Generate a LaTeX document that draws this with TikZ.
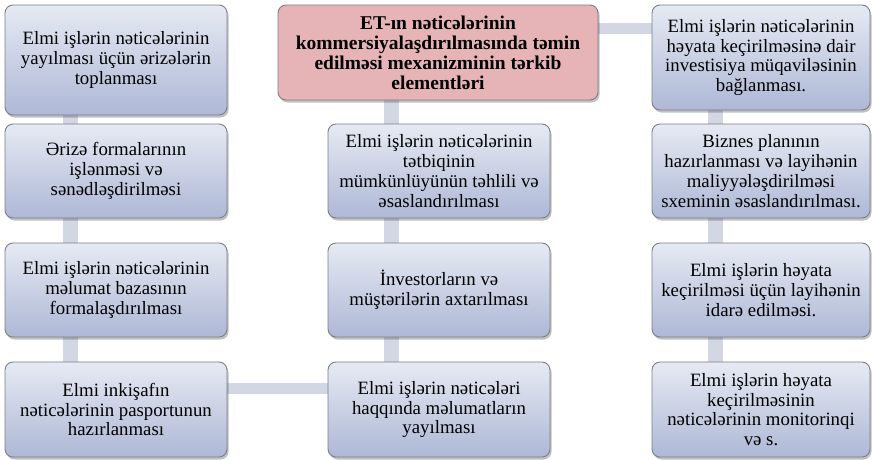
\documentclass[tikz,border=0pt]{standalone}
\usepackage{fontspec}
\setmainfont{Liberation Serif}
\usetikzlibrary{shadows,backgrounds,calc}
\definecolor{boxtop}{HTML}{E6EAF3}
\definecolor{boxbot}{HTML}{AEB8D6}
\definecolor{boxline}{HTML}{7C7E88}
\definecolor{pinkfill}{HTML}{E6B4B6}
\definecolor{barcol}{HTML}{D3D7E3}
\tikzset{
  blk/.style={draw=boxline, line width=0.9pt, rounded corners=8pt,
    top color=boxtop, bottom color=boxbot, align=center,
    font=\fontsize{18.8}{19.8}\selectfont, inner sep=2pt,
    drop shadow={shadow xshift=1.5pt, shadow yshift=-2.5pt, opacity=0.35, fill=black!70}},
  headblk/.style={draw=boxline, line width=0.9pt, rounded corners=8pt,
    fill=pinkfill, align=center,
    font=\fontsize{19.5}{20}\selectfont\bfseries, inner sep=2pt,
    drop shadow={shadow xshift=1.5pt, shadow yshift=-2.5pt, opacity=0.35, fill=black!70}},
  bar/.style={line width=15pt, draw=barcol},
  hbar/.style={line width=11pt, draw=barcol}
}
\begin{document}
\begin{tikzpicture}[x=1pt,y=-1pt]
\useasboundingbox (0,0) rectangle (872,459);
% left column
\node[blk, minimum width=222pt, minimum height=110pt] (l1) at (116,60)
  {Elmi işlərin nəticələrinin\\yayılması üçün ərizələrin\\toplanması};
\node[blk, minimum width=222pt, minimum height=94pt] (l2) at (116,171)
  {Ərizə formalarının\\işlənməsi və\\sənədləşdirilməsi};
\node[blk, minimum width=222pt, minimum height=94pt] (l3) at (116,290)
  {Elmi işlərin nəticələrinin\\məlumat bazasının\\formalaşdırılması};
\node[blk, minimum width=222pt, minimum height=95pt] (l4) at (116,409.5)
  {Elmi inkişafın\\nəticələrinin pasportunun\\hazırlanması};
% center column
\node[headblk, minimum width=320pt, minimum height=95pt] (c0) at (438,52.5)
  {ET-ın nəticələrinin\\kommersiyalaşdırılmasında təmin\\edilməsi mexanizminin tərkib\\elementləri};
\node[blk, minimum width=222pt, minimum height=94pt] (c1) at (439,171)
  {Elmi işlərin nəticələrinin\\tətbiqinin\\mümkünlüyünün təhlili və\\əsaslandırılması};
\node[blk, minimum width=222pt, minimum height=94pt] (c2) at (439,290)
  {İnvestorların və\\müştərilərin axtarılması};
\node[blk, minimum width=222pt, minimum height=95pt] (c3) at (439,409.5)
  {Elmi işlərin nəticələri\\haqqında məlumatların\\yayılması};
% right column
\node[blk, minimum width=218pt, minimum height=105pt] (r1) at (761,57.5)
  {Elmi işlərin nəticələrinin\\həyata keçirilməsinə dair\\investisiya müqaviləsinin\\bağlanması.};
\node[blk, minimum width=218pt, minimum height=94pt] (r2) at (761,171)
  {Biznes planının\\hazırlanması və layihənin\\maliyyələşdirilməsi\\sxeminin əsaslandırılması.};
\node[blk, minimum width=218pt, minimum height=94pt] (r3) at (761,290)
  {Elmi işlərin həyata\\keçirilməsi üçün layihənin\\idarə edilməsi.};
\node[blk, minimum width=218pt, minimum height=95pt] (r4) at (761,409.5)
  {Elmi işlərin həyata\\keçirilməsinin\\nəticələrinin monitorinqi\\və s.};
% connector axes
\coordinate (lx) at (70,0);
\coordinate (cx) at (391,0);
\coordinate (rx) at (715,0);
\coordinate (ty) at (0,28.5);
\coordinate (by) at (0,388);
\begin{scope}[on background layer]
  \draw[bar] (l1.center -| lx) -- (l4.center -| lx);
  \draw[bar] (c0.center -| cx) -- (c3.center -| cx);
  \draw[bar] (r1.center -| rx) -- (r4.center -| rx);
  \draw[hbar] (c0.east |- ty) -- (r1.west |- ty);
  \draw[hbar] (l4.east |- by) -- (c3.west |- by);
\end{scope}
\end{tikzpicture}
\end{document}
